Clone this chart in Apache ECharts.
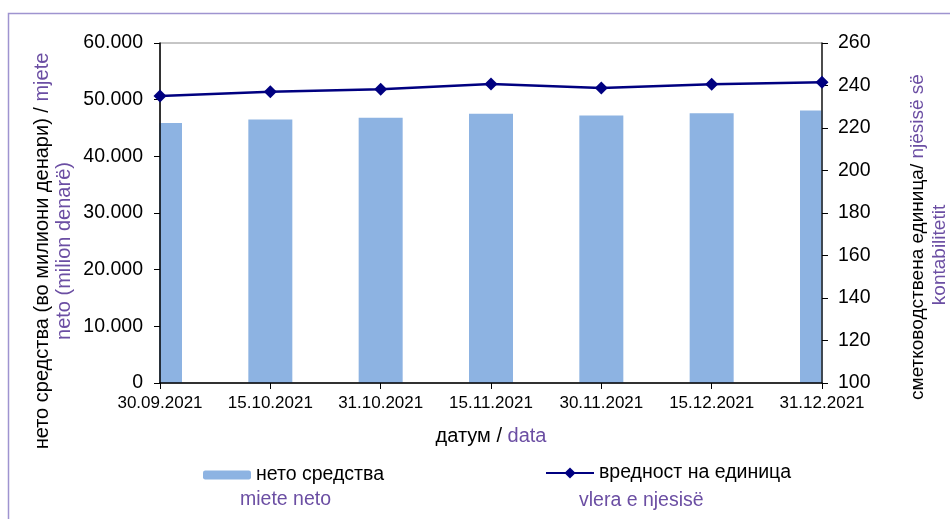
<!DOCTYPE html>
<html><head><meta charset="utf-8">
<script src="https://cdn.jsdelivr.net/npm/echarts@6/dist/echarts.min.js"></script>
<style>html,body{margin:0;padding:0;background:#fff}#c{width:950px;height:519px}</style>
</head><body><div id="c"></div>
<script>
const categories = ['30.09.2021','15.10.2021','31.10.2021','15.11.2021','30.11.2021','15.12.2021','31.12.2021'];
const netAssets = [45900, 46500, 46800, 47500, 47200, 47600, 48100];
const unitValue = [235.1, 237.1, 238.2, 240.7, 238.8, 240.6, 241.5];
const leftTicks = [0, 10000, 20000, 30000, 40000, 50000, 60000];
const rightTicks = [100, 120, 140, 160, 180, 200, 220, 240, 260];

const F = 'Arial, "Liberation Sans", sans-serif';
const PURPLE = '#6b4ea3';
const fmtThousands = v => v === 0 ? '0' : String(v).replace(/\B(?=(\d{3})+(?!\d))/g, '.');

const chart = echarts.init(document.getElementById('c'));
chart.setOption({
  animation: false,
  backgroundColor: '#fff',
  grid: { left: 160, right: 128, top: 43, bottom: 136, show: true, borderColor: '#8c8c8c', borderWidth: 1, backgroundColor: 'transparent' },
  xAxis: {
    type: 'category', data: categories, boundaryGap: false, z: 3,
    axisLine: { lineStyle: { color: '#000', width: 1.5 } },
    axisTick: { show: true, length: 6, lineStyle: { color: '#000' } },
    axisLabel: { color: '#000', fontFamily: F, fontSize: 17, margin: 12, interval: 0, showMinLabel: true, showMaxLabel: true }
  },
  yAxis: [{
    type: 'value', min: leftTicks[0], max: leftTicks[leftTicks.length-1], interval: 10000, position: 'left', z: 3,
    axisLine: { show: true, lineStyle: { color: '#000', width: 1.5 } },
    axisTick: { show: true, length: 6, lineStyle: { color: '#000' } },
    splitLine: { show: false },
    axisLabel: { color: '#000', fontFamily: F, fontSize: 19.5, margin: 17, formatter: fmtThousands }
  }, {
    type: 'value', min: rightTicks[0], max: rightTicks[rightTicks.length-1], interval: 20, position: 'right', z: 3,
    axisLine: { show: true, lineStyle: { color: '#222', width: 1.5 } },
    axisTick: { show: true, length: 6, lineStyle: { color: '#000' } },
    splitLine: { show: false },
    axisLabel: { color: '#000', fontFamily: F, fontSize: 19.5, margin: 16 }
  }],
  legend: [{
    left: 203, top: 465, padding: 0, itemWidth: 48, itemHeight: 9, itemGap: 5, z: 5,
    data: ['нето средства'],
    textStyle: { color: '#000', fontFamily: F, fontSize: 19.5 }
  }, {
    left: 545, top: 463, padding: 0, itemWidth: 48, itemHeight: 14, z: 5,
    data: ['вредност на единица'],
    textStyle: { color: '#000', fontFamily: F, fontSize: 19.5 }
  }],
  series: [{
    name: 'нето средства', type: 'bar', yAxisIndex: 0, data: netAssets, z: 1,
    barWidth: 44, clip: true,
    itemStyle: { color: '#8db3e2' }
  }, {
    name: 'вредност на единица', type: 'line', yAxisIndex: 1, data: unitValue, z: 5,
    symbol: 'diamond', symbolSize: 13, clip: false,
    lineStyle: { color: '#000080', width: 2.5 },
    itemStyle: { color: '#000080' }
  }],
  graphic: [
    { type: 'rect', silent: true, z: 2, shape: { x: 110, y: 40, width: 49.2, height: 343 }, style: { fill: '#fff' } },
    { type: 'rect', silent: true, z: 2, shape: { x: 822.8, y: 40, width: 60, height: 343 }, style: { fill: '#fff' } },
    { type: 'rect', silent: true, z: 6, shape: { x: 8.5, y: 13.5, width: 1000, height: 600 }, style: { fill: 'none', stroke: '#9f94d0', lineWidth: 1.5 } },
    { type: 'text', x: 42, y: 251, rotation: Math.PI/2, style: {
      text: '{k|нето средства (во милиони денари) / }{p|mjete}', align: 'center', verticalAlign: 'middle',
      rich: { k: { fill: '#000', fontFamily: F, fontSize: 20 }, p: { fill: PURPLE, fontFamily: F, fontSize: 20 } } } },
    { type: 'text', x: 64, y: 251, rotation: Math.PI/2, style: {
      text: 'neto (milion denarë)', align: 'center', verticalAlign: 'middle', fill: PURPLE, font: '20px ' + F } },
    { type: 'text', x: 918, y: 237, rotation: Math.PI/2, style: {
      text: '{k|сметководствена единица/ }{p|njësisë së}', align: 'center', verticalAlign: 'middle',
      rich: { k: { fill: '#000', fontFamily: F, fontSize: 19 }, p: { fill: PURPLE, fontFamily: F, fontSize: 19 } } } },
    { type: 'text', x: 940, y: 255, rotation: Math.PI/2, style: {
      text: 'kontabilitetit', align: 'center', verticalAlign: 'middle', fill: PURPLE, font: '19px ' + F } },
    { type: 'text', x: 491, y: 436, style: {
      text: '{k|датум / }{p|data}', align: 'center', verticalAlign: 'middle',
      rich: { k: { fill: '#000', fontFamily: F, fontSize: 20 }, p: { fill: PURPLE, fontFamily: F, fontSize: 20 } } } },
    { type: 'text', x: 240, y: 500, style: { text: 'miete neto', verticalAlign: 'middle', fill: PURPLE, font: '19.5px ' + F } },
    { type: 'text', x: 579, y: 501, style: { text: 'vlera e njesisë', verticalAlign: 'middle', fill: PURPLE, font: '19.5px ' + F } }
  ]
});
</script></body></html>
